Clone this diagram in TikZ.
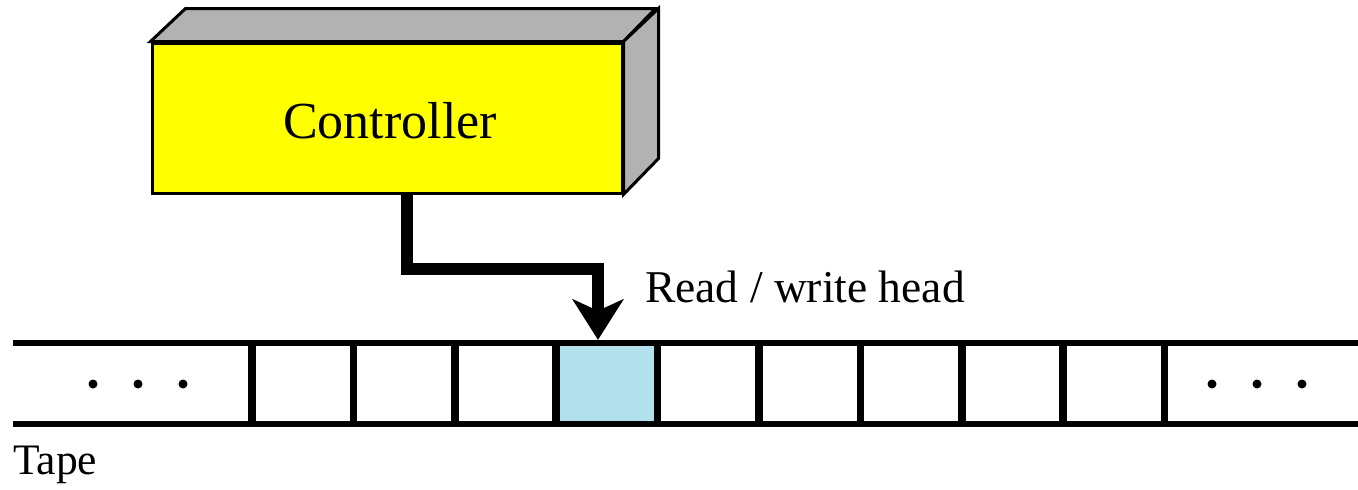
\documentclass[tikz,border=0pt]{standalone}
\usepackage{fontspec}
\setmainfont{Liberation Serif}
\newfontfamily\labelface{Liberation Serif}
\usetikzlibrary{arrows.meta,calc}
\definecolor{boxyellow}{RGB}{255,255,0}
\definecolor{boxgray}{RGB}{178,178,178}
\definecolor{headblue}{RGB}{178,224,236}
\tikzset{
  boxface/.style={draw=black, line width=3pt, line join=miter},
  tapeline/.style={line width=6pt},
  divider/.style={line width=7.5pt},
  headarrow/.style={line width=12pt, line join=miter,
    -{Stealth[length=41pt, width=52pt, inset=12pt, line width=0pt]}},
  label/.style={inner sep=0pt, anchor=base west, font=\labelface},
}
\begin{document}
\begin{tikzpicture}[x=1pt, y=-1pt]
\useasboundingbox (0,0) rectangle (1358,490);

% controller block with its top and side faces
\node[boxface, fill=boxyellow, minimum width=470pt, minimum height=150pt,
      inner sep=0pt] (ctrl) at (387,118) {};
\filldraw[boxface, fill=boxgray] (ctrl.north west) -- ++(35,-33) -- ++(470,0)
  -- (ctrl.north east) -- cycle;
\filldraw[boxface, fill=boxgray] (ctrl.north east) -- ++(35,-33) -- ++(0,150)
  -- (ctrl.south east) -- cycle;
\node[inner sep=0pt, anchor=base, font=\labelface] (ctrltext) at (390,138)
  {\fontsize{52pt}{60pt}\selectfont Controller};

% the cell under the head
\node[fill=headblue, minimum width=101.4pt, minimum height=81pt, inner sep=0pt]
  (head) at (607,383.5) {};

% tape
\draw[tapeline] (13,343) -- (1358,343);
\draw[tapeline] (13,424) -- (1358,424);
\foreach \i in {0,...,9}
  \draw[divider] ({252+101.4*\i},343) -- ({252+101.4*\i},424);
\foreach \x in {93,138,183,1212,1257,1302}
  \fill (\x,384) circle (4.5);

% connection from controller to the head cell
\draw[headarrow] ([xshift=20pt]ctrl.south) -- ++(0,74)
  -| ([xshift=-9pt,yshift=3pt]head.north);

% labels
\node[label] (rwlabel) at (645,302)
  {\fontsize{45.5pt}{52pt}\selectfont Read / write head};
\node[label] (tapelabel) at (13,474)
  {\fontsize{43.5pt}{50pt}\selectfont Tape};
\end{tikzpicture}
\end{document}
